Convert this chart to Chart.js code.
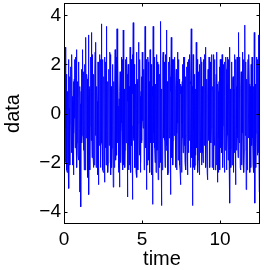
<!DOCTYPE html>
<html>
<head>
<meta charset="utf-8">
<script src="https://cdn.jsdelivr.net/npm/chart.js@4/dist/chart.umd.min.js"></script>
<style>
  html, body { margin: 0; padding: 0; background: #fff; }
  canvas { display: block; }
</style>
</head>
<body>
<canvas id="grafico" width="264" height="270"></canvas>
<script>
// sample spacing of the time axis
const passoTempo = 0.02;

const valores = [
  0.8, -0.9, 2.1, 0.4, 2.7, -2.0, -0.6, 1.6, 1.2, -2.3, -2.4, 0.3, 0.9, -1.8, -1.1, 2.2, -3.05, 0.2, 1.5, -2.1, -0.4, 1.1, 1.9, -0.3, -1.6, 2.4, 0.7, -1.6, -2.1, 0.5, 1.3, -2.5, -0.8, 1.4, 2.2, -0.2, -1.4, 2.3, 0.3, -1.1,
  2.6, -2.2, -1.2, 1.3, 0.6, -1.7, -1.9, 2.1, 1.7, -0.6, -3.2, 1.1, 0.4, -2.4, -3.8, 0.9, 1.8, -1.2, -0.9, 2.6, 2.4, -0.3, -1.5, 1.7, 0.2, -2.3, 2.0, -0.5, -2.3, 2.2, 3.1, -1.0, -0.7, 1.6, 1.4, -2.4, -2.6, 0.7, 3.2, -0.4,
  -3.3, 1.0, 1.1, -2.3, -0.5, 2.0, 2.3, -1.1, 3.3, -0.4, -1.8, 2.4, 0.9, -1.7, -2.2, 0.3, 1.6, -2.1, -0.3, 1.6, 2.5, -0.9, 2.9, -2.2, -1.7, 1.1, 0.5, -2.5, -2.0, 2.1, -2.9, 0.7, 1.9, -1.3, -1.0, 2.4, 0.7, -2.2, 2.2, -0.3,
  3.65, -1.2, -1.3, 2.2, 0.8, -2.3, -2.4, 0.9, 1.5, -1.0, -2.8, 2.3, 0.4, -1.4, 2.1, -2.1, 3.55, -0.3, -1.6, 1.3, 0.6, -2.4, -2.0, 0.8, 1.8, -1.3, -0.8, 2.5, 2.4, -0.9, -2.5, 1.1, 1.0, -2.2, -1.4, 2.0, 2.0, -0.5, -3.0, 1.2,
  1.3, -2.2, -0.6, 1.2, 2.6, -0.8, -1.9, 2.3, 0.9, -1.7, 3.45, -0.3, -1.2, 2.1, 0.3, -2.4, -2.2, 0.6, -3.0, 0.9, 1.7, -2.0, -0.7, 1.6, 2.3, -0.4, -1.8, 2.2, 1.1, -2.3, 3.4, -0.7, -2.1, 1.0, 0.5, -2.2, -1.5, 1.7, 2.2, -1.2,
  -0.9, 2.3, 1.6, -1.2, -3.4, 0.5, 2.0, -2.3, -1.3, 1.1, 0.6, -2.1, 2.7, -0.3, -2.4, 2.2, 1.2, -1.3, -0.5, 2.4, -3.5, 0.8, 3.7, -1.1, -1.0, 2.0, 1.9, -2.2, -2.2, 1.2, 0.8, -2.4, 2.5, -0.6, -2.6, 1.3, 1.4, -2.3, -0.4, 2.1,
  2.9, -1.0, -1.7, 2.2, 0.7, -2.4, -2.0, 0.9, 1.5, -1.2, -1.1, 2.5, 2.3, -0.3, -0.6, 1.3, 1.8, -2.3, -2.3, 1.0, 3.55, -0.8, -1.4, 2.2, -3.1, 0.6, 1.0, -2.1, -0.3, 2.3, 2.1, -1.0, -1.9, 1.3, 0.9, -2.4, 2.6, -0.5, -1.2, 2.0,
  0.5, -2.2, -2.5, 1.1, -3.7, 0.7, 3.55, -1.2, -0.8, 2.3, 1.6, -1.4, -2.0, 0.9, 1.2, -2.4, 2.4, -0.3, -1.5, 2.1, 0.4, -1.5, -2.7, 0.8, 2.0, -2.2, -0.9, 1.6, 1.3, -2.0, 3.75, -0.9, -3.75, 1.0, 0.8, -2.3, -1.6, 2.2, 2.5, -0.8,
  -1.0, 2.1, 1.7, -1.1, -2.2, 2.4, 0.6, -1.5, 3.4, -0.3, -1.3, 1.3, 0.2, -2.5, -2.4, 0.7, 2.1, -1.0, -0.7, 2.3, 1.5, -1.2, -3.3, 0.9, 3.1, -1.1, -1.8, 2.2, 0.9, -2.1, -1.1, 1.6, 2.2, -0.9, -0.5, 2.3, 1.0, -2.2, -2.1, 1.0,
  1.8, -2.3, -0.8, 1.3, 2.5, -0.4, -1.9, 2.2, 0.6, -1.5, 1.4, -2.1, -2.3, 1.2, -2.9, 0.8, 1.1, -2.4, -0.4, 1.3, 2.0, -1.0, -1.6, 2.3, 0.8, -1.3, 2.3, -0.8, -2.0, 1.5, 1.2, -2.3, -0.9, 1.6, 1.9, -1.1, -2.5, 2.1, 0.4, -1.6,
  2.2, -1.0, -1.1, 2.4, 1.3, -2.2, -0.6, 1.2, 3.45, -0.4, -1.8, 1.1, -3.75, 0.8, 2.4, -2.2, -0.7, 1.4, 1.6, -2.3, -2.1, 1.0, 0.9, -1.7, 2.9, -0.6, -1.4, 2.2, 0.5, -2.4, -1.9, 1.2, 1.7, -1.0, -2.5, 2.0, 1.0, -1.6, -0.3, 2.3,
  2.1, -2.1, -1.5, 1.1, 0.7, -1.6, -2.0, 2.2, 1.4, -1.3, -0.8, 2.4, 2.3, -0.8, 2.7, -2.2, -1.2, 1.4, 0.4, -2.4, -2.7, 0.8, 1.8, -1.1, -0.9, 2.3, 1.1, -1.4, -2.2, 2.1, 2.0, -1.2, -0.6, 2.4, 1.5, -2.2, -1.7, 1.1, 0.8, -2.3,
  2.4, -0.9, -1.3, 2.2, 0.5, -2.3, -2.1, 1.0, 1.6, -2.1, 2.5, -0.7, -2.8, 1.2, 0.9, -2.4, -1.0, 1.3, 1.9, -1.0, -2.3, 2.2, 0.6, -1.4, 2.2, -0.8, -1.6, 2.4, 1.2, -2.2, -0.5, 1.4, 2.0, -1.1, -2.4, 2.1, 0.7, -1.5, -1.2, 2.3,
  1.8, -2.3, -0.7, 1.2, 2.3, -0.9, -1.9, 2.2, 1.0, -1.5, 2.7, -0.8, -3.65, 1.0, 0.4, -2.2, -1.4, 1.6, 2.1, -2.1, -0.9, 1.4, 1.5, -2.4, -2.2, 1.0, 0.8, -1.6, 2.4, -0.7, -2.9, 2.2, 1.1, -1.5, -0.6, 2.3, 1.9, -1.0, -1.8, 2.2,
  3.3, -1.1, -1.2, 2.3, 0.6, -2.2, -2.3, 1.0, 1.7, -2.1, -0.8, 1.6, 2.5, -0.8, -2.0, 2.2, 0.9, -2.4, -1.5, 1.3, 3.6, -0.9, -0.7, 2.1, -3.1, 0.7, 1.4, -2.3, -1.9, 1.2, 2.2, -1.0, -0.5, 2.4, 1.2, -1.6, -2.4, 1.1, 0.7, -2.2,
  2.0, -1.2, -1.3, 2.3, 1.6, -1.0, -2.1, 1.1, 0.5, -2.4, 3.3, -0.8, -3.65, 1.2, 1.0, -2.2, -0.8, 1.5, 2.3, -0.9, -1.7, 2.2, 0.6, -1.6, 3.2, -0.7, -3.2, 0.9, 1.4, -1.1
];

const ticksX = [0, 5, 10];
const ticksY = [-4, -2, 0, 2, 4];
const limitesX = [0, 12.566];
const limitesY = [-4.5, 4.5];

const fonte = '"Liberation Sans", Arial, Helvetica, sans-serif';

function montarPontos() {
    return valores.map((v, i) => ({ x: i * passoTempo, y: v }));
}

// caixa e marcas para dentro, estilo matlab
const caixaPlugin = {
    id: 'caixa',
    afterDraw(chart) {
        const ctx = chart.ctx;
        const a = chart.chartArea;
        const l = Math.round(a.left) + 0.5, r = Math.round(a.right) - 0.5;
        const t = Math.round(a.top) + 0.5, b = Math.round(a.bottom) - 0.5;
        const tam = 3;
        ctx.save();
        ctx.strokeStyle = '#000';
        ctx.lineWidth = 1;
        ctx.beginPath();
        chart.scales.x.ticks.forEach(tk => {
            const px = Math.round(chart.scales.x.getPixelForValue(tk.value)) + 0.5;
            ctx.moveTo(px, b); ctx.lineTo(px, b - tam);
            ctx.moveTo(px, t); ctx.lineTo(px, t + tam);
        });
        chart.scales.y.ticks.forEach(tk => {
            const py = Math.round(chart.scales.y.getPixelForValue(tk.value)) + 0.5;
            ctx.moveTo(l, py); ctx.lineTo(l + tam, py);
            ctx.moveTo(r, py); ctx.lineTo(r - tam, py);
        });
        ctx.stroke();
        ctx.strokeRect(l, t, r - l, b - t);
        ctx.restore();
    }
};

function gerarGrafico() {
    const config = {
        type: 'line',
        data: {
            datasets: [{
                data: montarPontos(),
                borderColor: '#0000ff',
                borderWidth: 0.9,
                pointRadius: 0,
                tension: 0,
                fill: false
            }]
        },
        options: {
            responsive: false,
            animation: false,
            devicePixelRatio: 1,
            layout: { padding: { top: 3, right: 4, left: 0, bottom: 0 } },
            plugins: { legend: { display: false }, tooltip: { enabled: false } },
            scales: {
                x: {
                    type: 'linear',
                    min: limitesX[0],
                    max: limitesX[1],
                    grid: { display: false, drawTicks: false },
                    border: { display: false },
                    afterBuildTicks: s => { s.ticks = ticksX.map(v => ({ value: v })); },
                    afterFit: s => { s.height = 46; },
                    ticks: {
                        color: '#000',
                        padding: 4,
                        maxRotation: 0,
                        font: { family: fonte, size: 19 },
                        callback: v => String(v)
                    },
                    title: {
                        display: true,
                        text: 'time',
                        color: '#000',
                        font: { family: fonte, size: 20, lineHeight: 1 },
                        padding: { top: 0, bottom: 0.5 }
                    }
                },
                y: {
                    min: limitesY[0],
                    max: limitesY[1],
                    grid: { display: false, drawTicks: false },
                    border: { display: false },
                    afterBuildTicks: s => { s.ticks = ticksY.map(v => ({ value: v })); },
                    afterFit: s => { s.width = 64; s.paddingTop = 0; s.paddingBottom = 0; },
                    ticks: {
                        color: '#000',
                        padding: 3,
                        font: { family: fonte, size: 19 },
                        callback: v => (v < 0 ? '\u2212' + Math.abs(v) : String(v))
                    },
                    title: {
                        display: true,
                        text: 'data',
                        color: '#000',
                        font: { family: fonte, size: 20, lineHeight: 1 },
                        padding: { top: 3.5, bottom: 0 }
                    }
                }
            }
        },
        plugins: [caixaPlugin]
    };

    const ctx = document.getElementById('grafico').getContext('2d');
    window.meuGrafico = new Chart(ctx, config);
}

gerarGrafico();
</script>
</body>
</html>
